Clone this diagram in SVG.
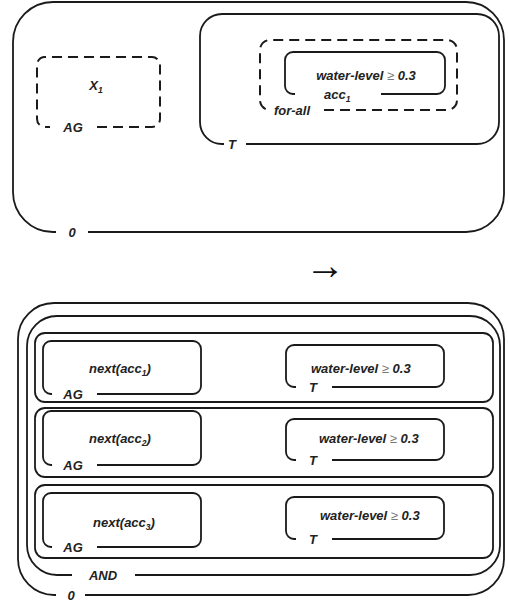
<svg xmlns="http://www.w3.org/2000/svg" width="508" height="606" viewBox="0 0 508 606">
<style>
.b{fill:none;stroke:#1a1a1a;stroke-width:1.8;stroke-linecap:butt}
.d{fill:none;stroke:#1a1a1a;stroke-width:2;stroke-dasharray:10 6}
.t{font-family:"Liberation Sans",Arial,sans-serif;font-weight:bold;font-style:italic;font-size:13px;fill:#222}
.m{text-anchor:middle}
.g{font-weight:normal;fill:#777}
.s{font-size:8.5px}
</style>
<rect width="508" height="606" fill="#fff"/>
<!-- top diagram -->
<g id="top-zero">
<path class="b" d="M88 232 H466 A38 38 0 0 0 504 194 V40 A38 38 0 0 0 466 2 H53 A40 40 0 0 0 13 42 V192 A40 40 0 0 0 53 232 H56"/>
<text class="t m" x="72" y="236.5">0</text>
</g>
<g id="top-ag">
<path class="d" d="M97 127 H152 A8 8 0 0 0 160 119 V65 A8 8 0 0 0 152 57 H45 A8 8 0 0 0 37 65 V119 A8 8 0 0 0 45 127 H50"/>
<text class="t m" x="73" y="131.5">AG</text>
<text class="t m" x="96" y="90">X<tspan class="s" dy="3">1</tspan></text>
</g>
<g id="top-t">
<path class="b" d="M246 144 H477 A22 22 0 0 0 499 122 V36 A22 22 0 0 0 477 14 H222 A22 22 0 0 0 200 36 V122 A22 22 0 0 0 222 144 H224"/>
<text class="t m" x="232" y="148.5">T</text>
</g>
<g id="top-forall">
<path class="d" d="M324 110 H447 A10 10 0 0 0 457 100 V50 A10 10 0 0 0 447 40 H270 A10 10 0 0 0 260 50 V100 A10 10 0 0 0 270 110"/>
<text class="t m" x="292" y="114.5">for-all</text>
</g>
<g id="top-acc">
<path class="b" d="M381 94 H437 A8 8 0 0 0 445 86 V60 A8 8 0 0 0 437 52 H293 A8 8 0 0 0 285 60 V86 A8 8 0 0 0 293 94 H295"/>
<text class="t m" x="366" y="80">water-level <tspan class="g">≥</tspan> 0.3</text>
<text class="t" x="324" y="98.5">acc<tspan class="s" dy="3">1</tspan></text>
</g>
<g id="arrow">
<text x="325" y="279" font-family="'Liberation Serif', serif" font-size="40" text-anchor="middle" fill="#111">→</text>
</g>
<!-- bottom diagram -->
<g id="bot-zero">
<path class="b" d="M85 595 H468 A36 36 0 0 0 504 559 V339 A36 36 0 0 0 468 303 H54 A36 36 0 0 0 18 339 V559 A36 36 0 0 0 54 595 H56"/>
<text class="t m" x="71" y="599.5">0</text>
</g>
<g id="bot-and">
<path class="b" d="M135 575 H470 A30 30 0 0 0 500 545 V346 A30 30 0 0 0 470 316 H57 A30 30 0 0 0 27 346 V545 A30 30 0 0 0 57 575 H72"/>
<text class="t m" x="103" y="579.5">AND</text>
</g>
<g id="row1">
<rect class="b" x="35" y="333" width="458" height="69" rx="10"/>
<g id="row1-ag">
<path class="b" d="M97 394 H193 A8 8 0 0 0 201 386 V349 A8 8 0 0 0 193 341 H51 A8 8 0 0 0 43 349 V386 A8 8 0 0 0 51 394 H52"/>
<text class="t m" x="73" y="398.5">AG</text>
<text class="t m" x="120" y="373">next(acc<tspan class="s" dy="3">1</tspan><tspan dy="-3">)</tspan></text>
</g>
<g id="row1-t">
<path class="b" d="M332 387 H436 A8 8 0 0 0 444 379 V353 A8 8 0 0 0 436 345 H294 A8 8 0 0 0 286 353 V379 A8 8 0 0 0 294 387 H296"/>
<text class="t m" x="313" y="391.5">T</text>
<text class="t" x="311" y="373">water-level <tspan class="g">≥</tspan> 0.3</text>
</g>
</g>
<g id="row2">
<rect class="b" x="35" y="408" width="458" height="69" rx="10"/>
<g id="row2-ag">
<path class="b" d="M97 465 H193 A8 8 0 0 0 201 457 V419 A8 8 0 0 0 193 411 H51 A8 8 0 0 0 43 419 V457 A8 8 0 0 0 51 465 H52"/>
<text class="t m" x="120" y="443">next(acc<tspan class="s" dy="3">2</tspan><tspan dy="-3">)</tspan></text>
<text class="t m" x="73" y="469.5">AG</text>
</g>
<g id="row2-t">
<path class="b" d="M332 460 H436 A8 8 0 0 0 444 452 V427 A8 8 0 0 0 436 419 H294 A8 8 0 0 0 286 427 V452 A8 8 0 0 0 294 460 H296"/>
<text class="t m" x="313" y="464.5">T</text>
<text class="t" x="319" y="443">water-level <tspan class="g">≥</tspan> 0.3</text>
</g>
</g>
<g id="row3">
<rect class="b" x="35" y="485" width="458" height="73" rx="10"/>
<g id="row3-ag">
<path class="b" d="M97 547 H193 A8 8 0 0 0 201 539 V501 A8 8 0 0 0 193 493 H51 A8 8 0 0 0 43 501 V539 A8 8 0 0 0 51 547 H52"/>
<text class="t m" x="124" y="527">next(acc<tspan class="s" dy="3">3</tspan><tspan dy="-3">)</tspan></text>
<text class="t m" x="73" y="551.5">AG</text>
</g>
<g id="row3-t">
<path class="b" d="M332 539 H436 A8 8 0 0 0 444 531 V505 A8 8 0 0 0 436 497 H294 A8 8 0 0 0 286 505 V531 A8 8 0 0 0 294 539 H296"/>
<text class="t m" x="313" y="543.5">T</text>
<text class="t" x="320" y="520">water-level <tspan class="g">≥</tspan> 0.3</text>
</g>
</g>
<g id="connectors"></g>
</svg>
